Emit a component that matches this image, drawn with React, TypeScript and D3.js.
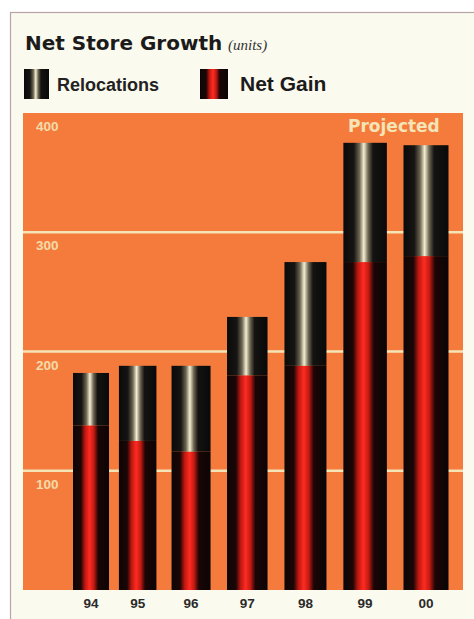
import React from "react";
import * as d3 from "d3";

const years = ["94", "95", "96", "97", "98", "99", "00"];
const netGain = [138, 125, 116, 180, 188, 275, 280];
const relocations = [44, 63, 72, 49, 87, 100, 93];
const yTicks = [100, 200, 300, 400];
const title = "Net Store Growth";
const unitsLabel = "(units)";
const seriesNames = ["Relocations", "Net Gain"];
const projectedLabel = "Projected";

const W = 474;
const H = 619;
const plot = { left: 23, right: 463, top: 113, bottom: 590 };

export default function App() {
  const y = d3.scaleLinear().domain([0, 400]).range([plot.bottom, plot.top]);
  // photo perspective: spacing widens to the right
  const xIdx = d3.scalePow().exponent(1.1).domain([0, years.length - 1]).range([91, 426]);
  const wIdx = d3.scaleLinear().domain([0, years.length - 1]).range([36, 45]);

  const stack = d3.stack<number>().keys(["net", "rel"]).value((i, k) => (k === "net" ? netGain[i] : relocations[i]));
  const series = stack(d3.range(years.length));

  const sans = "'Liberation Sans', Arial, sans-serif";
  const dj = "'DejaVu Sans', sans-serif";
  const cream = "#f4e4b6";

  return (
    <svg width={W} height={H} style={{ position: "absolute", left: 0, top: 0, background: "#ffffff" }}>
      <defs>
        <linearGradient id="gRel" x1="0" x2="1" y1="0" y2="0">
          <stop offset="0" stopColor="#0a0a0a" />
          <stop offset="0.24" stopColor="#161513" />
          <stop offset="0.37" stopColor="#6e6652" />
          <stop offset="0.47" stopColor="#f4eed2" />
          <stop offset="0.57" stopColor="#6e6652" />
          <stop offset="0.68" stopColor="#141312" />
          <stop offset="1" stopColor="#090909" />
        </linearGradient>
        <linearGradient id="gNet" x1="0" x2="1" y1="0" y2="0">
          <stop offset="0" stopColor="#0c0607" />
          <stop offset="0.22" stopColor="#1c0606" />
          <stop offset="0.33" stopColor="#b8170f" />
          <stop offset="0.46" stopColor="#ff2b22" />
          <stop offset="0.58" stopColor="#c21a12" />
          <stop offset="0.7" stopColor="#1c0506" />
          <stop offset="1" stopColor="#0a0506" />
        </linearGradient>
      </defs>

      {/* panel */}
      <rect x={10.5} y={12.5} width={W} height={H} fill="#fbfaee" stroke="#b7a4a4" strokeWidth={1.2} />

      {/* title */}
      <text x={25} y={50} fontFamily={dj} fontWeight="bold" fontSize={20} fill="#1b1b1b">
        {title}
      </text>
      <text x={228} y={50} fontFamily="'Liberation Serif', serif" fontStyle="italic" fontSize={15} fill="#333">
        {unitsLabel}
      </text>

      {/* legend */}
      <rect x={24} y={69} width={25} height={30} fill="url(#gRel)" />
      <text x={57} y={91} fontFamily={sans} fontWeight="bold" fontSize={18} fill="#222">
        {seriesNames[0]}
      </text>
      <rect x={200} y={69} width={28} height={30} fill="url(#gNet)" />
      <text x={240} y={91} fontFamily={sans} fontWeight="bold" fontSize={21} fill="#1b1b1b">
        {seriesNames[1]}
      </text>

      {/* plot area */}
      <rect x={plot.left} y={plot.top} width={plot.right - plot.left} height={plot.bottom - plot.top} fill="#f47b3c" />

      {/* gridlines */}
      {yTicks.filter((t) => t < 400).map((t) => (
        <line key={t} x1={plot.left} x2={plot.right} y1={y(t)} y2={y(t)} stroke={cream} strokeWidth={2.5} />
      ))}
      {yTicks.map((t) => (
        <text key={"l" + t} x={36} y={y(t) + 18} fontFamily={sans} fontWeight="bold" fontSize={13.5} fill={cream} opacity={0.9}>
          {t}
        </text>
      ))}

      <text x={348} y={132} fontFamily={dj} fontWeight="bold" fontSize={17} fill={cream}>
        {projectedLabel}
      </text>

      {/* bars */}
      {series.map((s) =>
        s.map((d, i) => {
          const w = wIdx(i);
          const cx = xIdx(i);
          return (
            <rect
              key={s.key + i}
              x={cx - w / 2}
              y={y(d[1])}
              width={w}
              height={y(d[0]) - y(d[1])}
              fill={s.key === "net" ? "url(#gNet)" : "url(#gRel)"}
            />
          );
        })
      )}

      {/* x labels */}
      {years.map((yr, i) => (
        <text key={yr} x={xIdx(i)} y={608} textAnchor="middle" fontFamily={sans} fontWeight="bold" fontSize={13.5} fill="#2a2a2a">
          {yr}
        </text>
      ))}
    </svg>
  );
}
